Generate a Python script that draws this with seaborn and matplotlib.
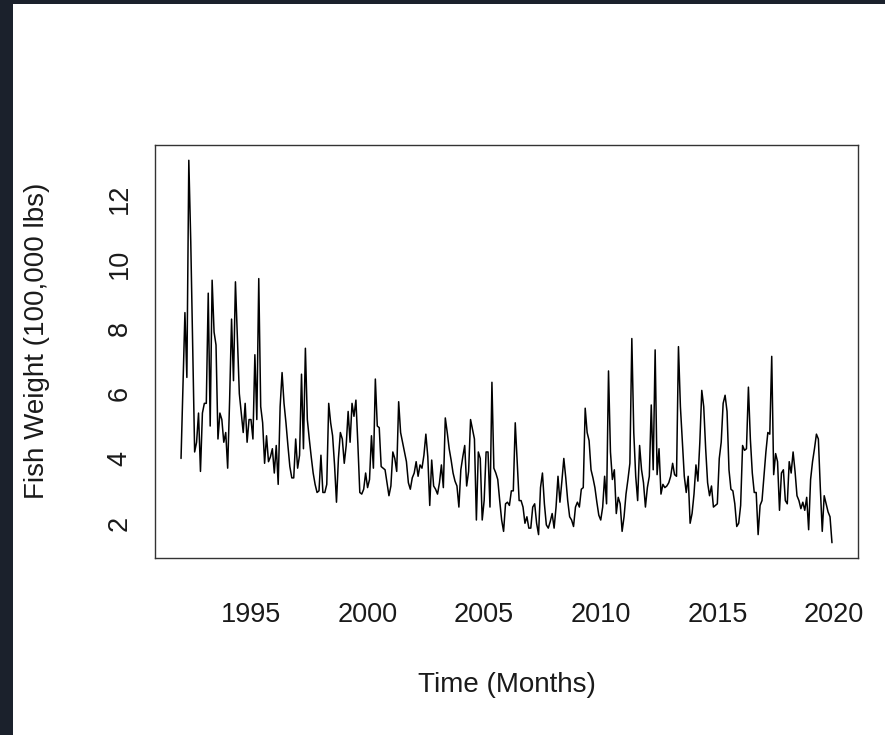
import numpy as np
import pandas as pd
import matplotlib
matplotlib.use("Agg")
import matplotlib.pyplot as plt
from matplotlib.patches import Rectangle
import seaborn as sns

# Monthly fish weight (100,000 lbs), Jan 1992 - Dec 2019
weights = [
    4.0, 6.2, 8.5, 6.5, 13.2, 10.7, 7.5, 4.2, 4.5, 5.4, 3.6, 5.4,
    5.7, 5.7, 9.1, 5.0, 9.5, 7.9, 7.5, 4.6, 5.4, 5.2, 4.5, 4.8,
    3.7, 5.8, 8.3, 6.4, 9.45, 7.7, 6.0, 5.4, 4.8, 5.7, 4.5, 5.2,
    5.2, 4.6, 7.2, 5.2, 9.55, 5.6, 5.1, 3.85, 4.7, 3.9, 4.05, 4.3,
    3.55, 4.4, 3.2, 5.6, 6.65, 5.7, 5.1, 4.4, 3.75, 3.4, 3.4, 4.6,
    3.7, 4.1, 6.6, 4.3, 7.4, 5.2, 4.6, 4.05, 3.55, 3.2, 2.95, 3.0,
    4.1, 2.95, 2.95, 3.2, 5.7, 5.1, 4.7, 3.8, 2.65, 4.0, 4.8, 4.6,
    3.85, 4.4, 5.45, 4.5, 5.7, 5.3, 5.8, 4.45, 2.95, 2.9, 3.05, 3.55,
    3.1, 3.35, 4.7, 3.7, 6.45, 5.0, 4.95, 3.75, 3.7, 3.65, 3.25, 2.85,
    3.15, 4.2, 4.0, 3.6, 5.75, 4.8, 4.5, 4.2, 3.9, 3.25, 3.05, 3.4,
    3.55, 3.9, 3.45, 3.8, 3.7, 4.1, 4.75, 4.05, 2.55, 3.95, 3.15, 3.05,
    2.9, 3.25, 3.8, 3.1, 5.25, 4.8, 4.3, 3.95, 3.55, 3.3, 3.15, 2.5,
    3.65, 4.05, 4.4, 3.15, 3.6, 5.2, 4.9, 4.6, 2.1, 4.2, 4.0, 2.1,
    2.7, 4.2, 4.2, 2.5, 6.35, 3.7, 3.55, 3.35, 2.7, 2.1, 1.75, 2.6,
    2.65, 2.55, 3.0, 3.0, 5.1, 3.9, 2.7, 2.7, 2.5, 2.0, 2.2, 1.85,
    1.85, 2.5, 2.6, 2.0, 1.65, 3.1, 3.55, 2.6, 1.95, 1.85, 2.05, 2.3,
    1.85, 2.5, 3.45, 2.65, 3.3, 4.0, 3.4, 2.7, 2.2, 2.1, 1.9, 2.5,
    2.65, 2.5, 3.05, 3.1, 5.55, 4.8, 4.55, 3.65, 3.4, 3.1, 2.65, 2.25,
    2.1, 2.5, 3.45, 2.6, 6.7, 4.2, 3.35, 3.65, 2.3, 2.8, 2.6, 1.75,
    2.2, 2.9, 3.35, 3.85, 7.7, 4.8, 3.45, 2.7, 4.4, 3.65, 3.25, 2.5,
    3.1, 3.45, 5.65, 3.65, 7.35, 3.5, 4.3, 2.9, 3.2, 3.1, 3.15, 3.25,
    3.45, 3.85, 3.5, 3.45, 7.45, 5.6, 4.5, 3.45, 2.95, 3.45, 2.0, 2.3,
    2.9, 3.8, 3.3, 4.5, 6.1, 5.6, 4.3, 3.25, 2.85, 3.15, 2.5, 2.55,
    2.6, 4.0, 4.5, 5.7, 5.95, 5.45, 3.65, 3.05, 3.0, 2.6, 1.9, 2.0,
    2.55, 4.4, 4.25, 4.3, 6.2, 4.6, 3.55, 2.95, 2.95, 1.65, 2.55, 2.7,
    3.45, 4.2, 4.8, 4.75, 7.15, 3.5, 4.15, 3.9, 2.4, 3.55, 3.65, 2.7,
    2.6, 3.9, 3.55, 4.2, 3.6, 2.85, 2.7, 2.45, 2.65, 2.4, 2.8, 1.8,
    3.35, 3.9, 4.3, 4.75, 4.6, 3.1, 1.75, 2.85, 2.6, 2.35, 2.2, 1.4,
]
start_year = 1992
x_ticks = [1995, 2000, 2005, 2010, 2015, 2020]
y_ticks = [2, 4, 6, 8, 10, 12]
x_label = "Time (Months)"
y_label = "Fish Weight (100,000 lbs)"

time = start_year + np.arange(len(weights)) / 12.0
df = pd.DataFrame({"time": time, "weight": weights})

sns.set_style("white")
plt.rcParams["font.family"] = ["Liberation Sans", "DejaVu Sans"]

W, H = 885, 735
fig = plt.figure(figsize=(W / 100, H / 100), dpi=100)
fig.patch.set_facecolor("white")

# dark frame strips (top, left)
fig.patches.append(Rectangle((0, 1 - 4 / H), 1, 4 / H, transform=fig.transFigure,
                             facecolor="#1b212c", edgecolor="none", zorder=0))
fig.patches.append(Rectangle((0, 0), 13 / W, 1, transform=fig.transFigure,
                             facecolor="#1b212c", edgecolor="none", zorder=0))

left, right, top, bottom = 155, 858, 145, 558
ax = fig.add_axes([left / W, 1 - bottom / H, (right - left) / W, (bottom - top) / H])

sns.lineplot(data=df, x="time", y="weight", ax=ax, color="black", linewidth=1.1)

xr = time[-1] - time[0]
yr = max(weights) - min(weights)
ax.set_xlim(time[0] - 0.04 * xr, time[-1] + 0.04 * xr)
ax.set_ylim(min(weights) - 0.04 * yr, max(weights) + 0.04 * yr)

ax.set_xticks(x_ticks)
ax.set_yticks(y_ticks)
ax.set_xticklabels([str(t) for t in x_ticks])
ax.set_yticklabels([str(t) for t in y_ticks], rotation=90, va="center")

for s in ax.spines.values():
    s.set_visible(True)
    s.set_color("#333333")
    s.set_linewidth(1.0)

ax.tick_params(axis="both", direction="out", length=6, width=1.0, color="#333333",
               labelsize=19.5, labelcolor="#1a1a1a")
ax.tick_params(axis="x", pad=26)
ax.tick_params(axis="y", pad=10)

ax.set_xlabel(x_label, fontsize=20, color="#1a1a1a")
ax.set_ylabel(y_label, fontsize=20, color="#1a1a1a")
ax.xaxis.label.set_va("center")
ax.yaxis.label.set_va("center")
ax.xaxis.set_label_coords(0.5, (bottom - 685) / (bottom - top))
ax.yaxis.set_label_coords((37 - left) / (right - left), (bottom - 341) / (bottom - top))

fig.savefig("out.png", dpi=100, facecolor="white")
